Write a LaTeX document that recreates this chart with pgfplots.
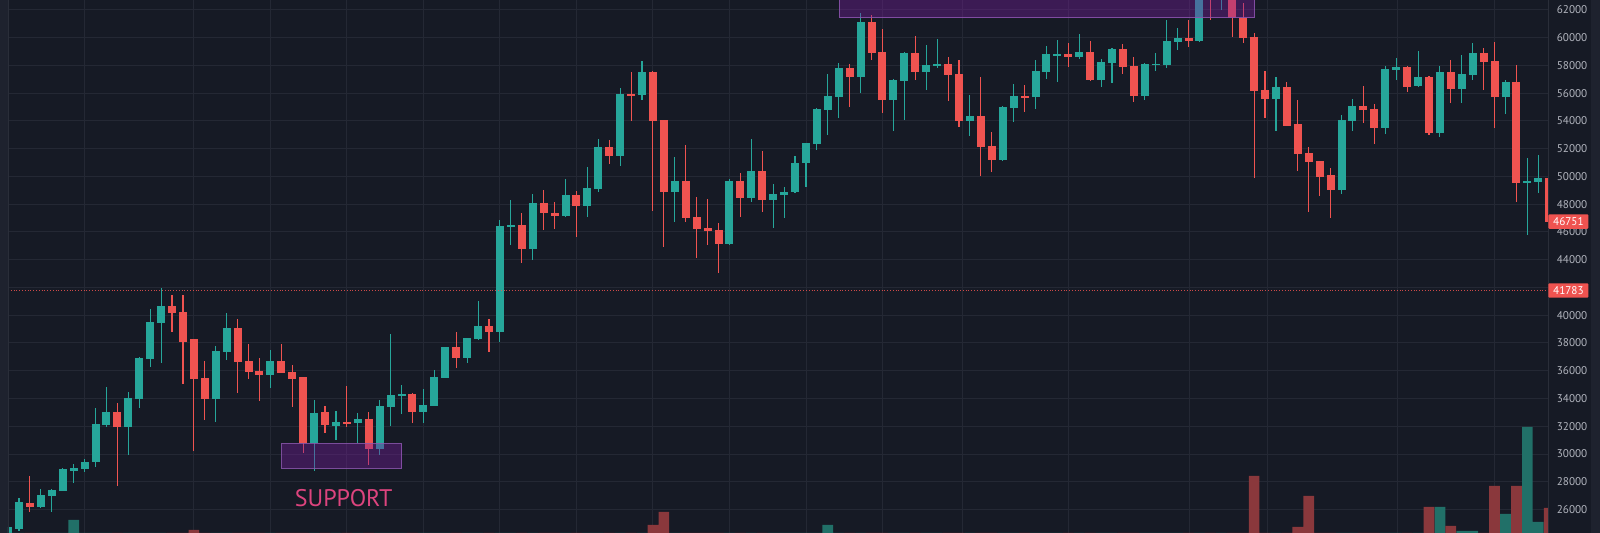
\documentclass[border=0pt]{standalone}
\usepackage{fontspec}
\setmainfont{PT Sans}
\usepackage{pgfplots}
\pgfplotsset{compat=1.18}
\usepackage{pgfplotstable}
\definecolor{bg}{RGB}{22,26,37}
\definecolor{gridc}{RGB}{36,40,52}
\definecolor{cup}{RGB}{38,166,154}
\definecolor{cdn}{RGB}{239,83,80}
\definecolor{vup}{RGB}{33,112,104}
\definecolor{vdn}{RGB}{138,56,60}
\definecolor{lbl}{RGB}{178,181,190}
\definecolor{sep}{RGB}{42,46,57}
\definecolor{strip}{RGB}{30,34,46}
\definecolor{boxc}{RGB}{123,31,162}
\definecolor{boxline}{RGB}{140,85,175}
\definecolor{supp}{RGB}{221,68,126}
\newcommand\tf{\fontsize{5.6pt}{6pt}\selectfont}

% candles: index, open, high, low, close, volume (relative)
\pgfplotstableread{
i o h l c v
-1 24000 24900 23900 24750 0
0 24580 26809 24450 26520 0
2 26160 27457 26088 27049 0
3 27001 27457 25800 27409 0
4 27361 28970 27361 28898 0
5 28802 29282 27938 28994 13
6 28946 29666 28706 29426 0
7 29403 33342 29091 32197 0
8 32117 34856 31973 33030 0
10 31949 34495 29931 34039 0
11 33991 37017 33342 36945 0
12 36825 40428 36297 39515 0
13 39419 41941 36537 40668 0
18 33943 37810 32285 37425 0
19 37329 40140 36777 39107 0
23 35720 37498 34735 36705 0
27 30772 33895 28802 32982 0
29 32045 33126 31012 32333 0
31 32213 32934 30820 32501 0
33 30339 33895 29931 33487 0
34 33415 38651 32021 34279 0
35 34183 34976 32886 34351 0
37 33054 34687 32261 33534 0
38 33486 36056 33440 35576 0
39 35504 37738 35456 37690 0
41 36897 38386 36585 38338 0
42 38266 41028 38218 39227 0
44 38819 46868 38098 46435 0
45 46339 48308 45066 46507 0
47 44753 48741 43985 48068 0
50 47156 49798 47060 48669 0
52 47900 50710 47060 49149 0
53 49101 52680 48909 52152 0
55 51479 56355 50759 55923 0
57 55851 58349 55514 57508 0
60 48861 51383 46747 49702 0
65 45162 49798 45066 49654 0
67 48429 52680 48140 50398 0
69 48308 49461 46267 48717 0
70 48669 49269 47036 48909 0
71 48861 51479 48789 50999 0
72 50951 52440 49270 52392 0
73 52344 54915 51912 54867 0
74 54795 57388 52993 55828 8
75 55756 58157 54194 57797 0
77 57196 61760 56043 61160 0
80 55515 57000 53281 56956 0
81 56884 58998 54074 58926 0
83 57557 59478 56236 58037 0
84 57989 59910 57797 58109 0
87 54001 55875 52921 54362 0
90 51191 55082 51150 55034 0
91 54963 56644 53954 55828 0
93 55707 58397 54843 57605 0
94 57557 59406 57004 58806 0
95 58733 59838 56836 58830 0
97 58638 60247 58445 58950 0
99 56956 58445 56428 58277 0
100 58157 59238 56764 59166 0
103 55803 58157 55515 58109 0
104 58061 58878 57629 58109 0
105 58037 61280 57845 59767 0
106 59719 60679 59118 59959 0
108 59767 63400 59700 63100 0
110 62900 64000 62000 63600 0
115 55587 57148 53305 56428 0
121 49030 54434 48742 54074 0
122 54002 55563 53305 55083 0
125 53521 57989 53041 57748 0
126 57677 58566 56956 57869 0
128 56524 59070 56476 57196 0
130 53161 57989 52873 57509 26
132 56308 58758 55275 57388 2
133 57316 59647 56956 58926 2
136 55755 56956 54482 56788 19
138 49510 51360 45787 49678 106
139 49582 51552 48838 49870 11
}\up

\pgfplotstableread{
i o h l c v
1 26497 28418 25800 26160 0
9 33030 33655 27697 31949 0
14 40668 41461 38819 40140 0
15 40260 41461 35023 38098 0
16 38266 38315 30243 35432 3
17 35504 36729 32453 33943 0
20 39107 39708 34375 36633 0
21 36729 37930 35384 35912 0
22 35985 36945 33847 35720 0
24 36729 37930 35816 35864 0
25 35937 36417 33415 35432 0
26 35528 35576 30051 30772 0
28 33006 33487 31493 32093 0
30 32333 34904 31973 32189 0
32 32501 33054 29211 30339 0
36 34327 34423 32213 33054 0
40 37690 38819 36176 36897 0
43 39227 39707 37377 38819 0
46 46483 47348 43745 44753 0
48 48068 49029 46147 47348 0
49 47396 48188 46195 47156 0
51 48669 48981 45666 47900 0
54 52152 52632 50879 51503 0
56 55947 57556 54001 55851 0
58 57508 57600 47516 54025 8
59 54073 54100 44898 48861 21
61 49702 52272 46699 46988 0
62 47060 48549 44105 46219 0
63 46267 48356 45066 46099 0
64 46147 46675 43024 45162 0
66 49654 50230 47060 48429 0
68 50398 51839 47468 48308 0
76 57797 58109 55034 57196 0
78 61160 61640 58397 58926 0
79 58998 60607 54602 55515 0
82 58926 60127 56956 57557 0
85 58109 58638 55443 57316 0
86 57388 58397 53593 54001 0
88 54362 57196 50063 52152 0
89 52224 53233 50351 51191 0
92 55828 56596 54674 55683 0
96 58830 59598 57917 58638 0
98 58998 59767 56884 56956 0
101 59166 59551 57364 57917 0
102 57989 58638 55395 55803 0
107 59959 61280 59358 59767 0
109 63800 64200 61280 62900 0
111 62900 63200 60030 61400 0
112 61400 62481 59647 60007 0
113 60079 60367 49919 56164 57
114 56236 57628 54194 55587 0
116 56428 56836 53620 53666 0
117 53761 55515 50399 51599 6
118 51672 52152 47420 51023 37
119 51119 51150 48622 49990 0
120 50111 50591 46988 49030 0
123 55083 56524 53882 54795 0
124 54867 55203 52344 53521 0
127 57869 57965 56068 56476 0
129 57196 57268 52993 53113 26
131 57509 58397 55323 56308 7
134 58926 59238 56236 58229 0
135 58325 59718 53521 55755 47
137 56788 58037 48141 49510 47
140 49870 49950 46751 46751 25
}\dn

\begin{document}
\begin{tikzpicture}
\useasboundingbox (0,0) rectangle (800pt,266.5pt);
\fill[bg] (0,0) rectangle (800pt,266.5pt);
\fill[strip] (0,0) rectangle (4pt,266.5pt);
\fill[strip] (795.5pt,0) rectangle (800pt,266.5pt);

\begin{axis}[
  at={(4pt,0pt)}, anchor=south west,
  scale only axis, width=770pt, height=266.5pt,
  xmin=-1.0064, xmax=139.89, ymin=24307, ymax=62721,
  axis line style={draw=none},
  xtick={6,16,23,30,37,44,51,58,65,72.06,79,86.3,96,107.07,114.2,126.1,135},
  xticklabels={},
  ytick={26000,28000,30000,32000,34000,36000,38000,40000,44000,46000,48000,50000,52000,54000,56000,58000,60000,62000},
  extra y ticks={42000},
  extra y tick labels={},
  extra tick style={grid=major},
  yticklabel pos=right,
  scaled y ticks=false,
  /pgf/number format/assume math mode=true,
  yticklabel style={/pgf/number format/.cd, fixed, precision=0, 1000 sep={}, /tikz/.cd,
    font=\tf, text=lbl, anchor=west, inner sep=0pt, xshift=4.2pt},
  major tick length=0pt,
  grid=major,
  major grid style={draw=gridc, line width=0.5pt},
  clip=true,
]
% wicks
\addplot[no markers, draw=none, error bars/.cd, y dir=both, y explicit, error mark=none,
  error bar style={line width=0.55pt, draw=cup}]
  table[x=i, y expr={(\thisrow{h}+\thisrow{l})/2}, y error expr={(\thisrow{h}-\thisrow{l})/2}] {\up};
\addplot[no markers, draw=none, error bars/.cd, y dir=both, y explicit, error mark=none,
  error bar style={line width=0.55pt, draw=cdn}]
  table[x=i, y expr={(\thisrow{h}+\thisrow{l})/2}, y error expr={(\thisrow{h}-\thisrow{l})/2}] {\dn};
% bodies
\addplot[no markers, draw=none, error bars/.cd, y dir=both, y explicit, error mark=none,
  error bar style={line width=4pt, draw=cup}]
  table[x=i, y expr={(\thisrow{o}+\thisrow{c})/2}, y error expr={max(abs(\thisrow{c}-\thisrow{o})/2,45)}] {\up};
\addplot[no markers, draw=none, error bars/.cd, y dir=both, y explicit, error mark=none,
  error bar style={line width=4pt, draw=cdn}]
  table[x=i, y expr={(\thisrow{o}+\thisrow{c})/2}, y error expr={max(abs(\thisrow{c}-\thisrow{o})/2,45)}] {\dn};
% last price line
\addplot[cdn, opacity=0.85, line width=0.5pt, dash pattern=on 0.5pt off 0.9pt] coordinates {(-1.0064,41783) (139.89,41783)};
% boxes
\draw[fill=boxc, fill opacity=0.38, draw=boxline, draw opacity=0.85, line width=0.5pt]
  (axis cs:24.03,28970) rectangle (axis cs:35.01,30722);
\draw[fill=boxc, fill opacity=0.38, draw=boxline, draw opacity=0.85, line width=0.5pt]
  (axis cs:75.05,61448) rectangle (axis cs:113.08,64500);
\node[text=supp, font=\fontsize{12pt}{14pt}\selectfont] at (axis cs:29.7,26830) {SUPPORT};
\coordinate (L1) at (axis cs:139.89,41783);
\coordinate (L2) at (axis cs:139.89,46751);
\end{axis}

\begin{axis}[
  at={(4pt,0pt)}, anchor=south west,
  scale only axis, width=770pt, height=266.5pt,
  xmin=-1.0064, xmax=139.89, ymin=0, ymax=533,
  hide axis,
]
\addplot[ybar, bar width=0.98, bar shift=0pt, fill=vup, draw=none] table[x=i, y=v] {\up};
\addplot[ybar, bar width=0.98, bar shift=0pt, fill=vdn, draw=none] table[x=i, y=v] {\dn};
\end{axis}

\draw[sep, line width=0.5pt] (4pt,0) -- (4pt,266.5pt);
\draw[sep, line width=0.5pt] (774pt,0) -- (774pt,266.5pt);
\node[anchor=west, fill=cdn, text=white, font=\tf, minimum width=20pt, minimum height=7.2pt, inner sep=0pt, rounded corners=0.5pt] at (L1) {41783};
\node[anchor=west, fill=cdn, text=white, font=\tf, minimum width=20pt, minimum height=7.2pt, inner sep=0pt, rounded corners=0.5pt] at (L2) {46751};
\end{tikzpicture}
\end{document}
